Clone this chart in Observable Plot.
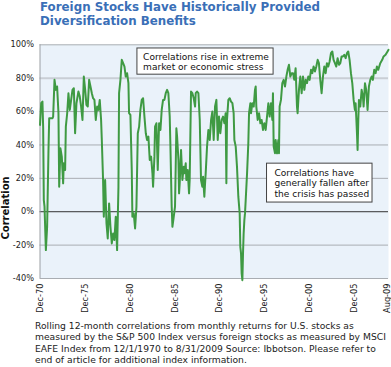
<!DOCTYPE html>
<html><head><meta charset="utf-8">
<script src="https://cdn.jsdelivr.net/npm/d3@7"></script>
<script src="https://cdn.jsdelivr.net/npm/@observablehq/plot@0.6"></script>
<style>
body{margin:0;width:391px;height:367px;overflow:hidden;background:#fff;}
#title{height:32px;padding-left:40px;font:bold 12.5px "DejaVu Sans";line-height:14px;color:#3a6fb7;white-space:nowrap;}
#title span{display:inline-block;transform-origin:0 0;}
#chart svg{display:block}
#caption{padding-left:35px;font:9.2px "DejaVu Sans";line-height:11.3px;color:#222;white-space:nowrap;}
</style></head>
<body>
<div id="title"><span id="t1"></span><br><span id="t2"></span></div>
<div id="chart"></div>
<div id="caption"></div>
<script>
const titleLines = ["Foreign Stocks Have Historically Provided", "Diversification Benefits"];
const captionLines = [
  "Rolling 12-month correlations from monthly returns for U.S. stocks as",
  "measured by the S&P 500 Index versus foreign stocks as measured by MSCI",
  "EAFE Index from 12/1/1970 to 8/31/2009 Source: Ibbotson. Please refer to",
  "end of article for additional index information."
];
const yAxisLabel = "Correlation";

// x tick positions (decimal years) and labels
const tickYears = [1970.917, 1975.917, 1980.917, 1985.917, 1990.917, 1995.917, 2000.917, 2005.917, 2009.583];
const tickLabels = ["Dec-70", "Dec-75", "Dec-80", "Dec-85", "Dec-90", "Dec-95", "Dec-00", "Dec-05", "Aug-09"];
const yTicks = [-40, -20, 0, 20, 40, 60, 80, 100];

// rolling correlation, percent
const years70s = [1970.92,1971.05,1971.19,1971.27,1971.34,1971.42,1971.57,1971.71,1971.86,1971.94,
1972.31,1972.38,1972.53,1972.68,1972.82,1972.97,1973.05,1973.19,1973.34,1973.49,
1973.56,1973.71,1973.79,1973.94,1974.08,1974.23,1974.38,1974.53,1974.68,1974.82,
1974.97,1975.19,1975.34,1975.49,1975.64,1975.79,1975.94,1976.08,1976.23,1976.38,
1976.53,1976.68,1976.82,1976.97,1977.12,1977.27,1977.42,1977.56,1977.71,1977.79,
1977.93,1978.01,1978.16,1978.31,1978.45,1978.60,1978.75,1978.90,1979.05,1979.19,
1979.34,1979.49,1979.64,1979.71,1979.86,1980.01,1980.16,1980.31];
const corr70s = [52,65,66,50,7,3,-23,-9,37,56,
56,57,79,73,75,59,15,38,33,17,
29,25,51,59,71,61,67,73,74,47,
65,72,69,63,55,81,73,64,63,79,
75,71,68,67,55,63,61,67,55,43,
19,-3,19,-7,-16,5,-9,-19,-13,-17,
-3,-23,15,71,79,91,89,87];

const years80s = [1980.45,1980.60,1980.75,1980.82,1980.97,1981.12,1981.19,1981.34,1981.49,1981.64,
1981.79,1981.94,1982.08,1982.23,1982.38,1982.53,1982.68,1982.82,1982.97,1983.12,
1983.27,1983.42,1983.49,1983.64,1983.71,1983.86,1984.01,1984.16,1984.31,1984.45,
1984.60,1984.75,1984.90,1985.05,1985.19,1985.34,1985.42,1985.56,1985.64,1985.79,
1985.93,1986.08,1986.16,1986.31,1986.38,1986.45,1986.60,1986.75,1986.90,1986.97,
1987.12,1987.19,1987.34,1987.49,1987.56,1987.71,1987.86,1988.01,1988.16,1988.23,
1988.38,1988.53,1988.68,1988.75,1988.82,1988.97,1989.05,1989.19,1989.27,1989.34,
1989.49,1989.64,1989.79,1989.94];
const corr80s = [81,83,77,59,58,25,-3,-1,-10,3,
47,51,61,67,68,57,47,43,45,31,
33,23,15,33,51,53,25,53,49,61,
67,67,71,73,71,57,39,3,-9,-3,
3,50,45,31,11,17,37,19,27,23,
29,19,25,11,19,72,71,68,63,71,
72,71,55,37,19,15,21,9,17,23,
39,49,43,55];

const years90s = [1990.08,1990.23,1990.38,1990.53,1990.68,1990.82,1990.97,1991.12,1991.27,1991.42,
1991.56,1991.64,1991.71,1991.86,1992.01,1992.16,1992.31,1992.45,1992.53,1992.68,
1992.82,1992.97,1993.12,1993.19,1993.27,1993.34,1993.42,1993.49,1993.56,1993.64,
1993.71,1993.79,1993.94,1994.08,1994.16,1994.31,1994.38,1994.53,1994.68,1994.82,
1994.90,1994.97,1995.12,1995.27,1995.42,1995.56,1995.71,1995.86,1996.01,1996.16,
1996.31,1996.45,1996.60,1996.75,1996.82,1996.90,1997.05,1997.12,1997.27,1997.42,
1997.49,1997.56,1997.71,1997.86,1998.01,1998.16,1998.31,1998.45,1998.60,1998.75,
1998.90,1999.05,1999.19,1999.34,1999.49,1999.56,1999.71,1999.86];
const corr90s = [60,43,63,67,43,57,47,55,57,53,
59,17,55,67,68,66,65,59,43,39,
27,9,-1,-21,-25,-37,-41,-25,-13,-5,
-1,7,23,41,59,65,59,65,63,73,
75,63,55,59,53,55,49,53,49,57,
65,57,65,55,71,39,35,43,35,43,
35,63,67,77,79,75,81,85,88,81,
83,83,79,86,63,59,73,81];

const years00s = [2000.01,2000.16,2000.31,2000.45,2000.60,2000.75,2000.90,2001.05,2001.19,2001.34,
2001.49,2001.64,2001.79,2001.93,2002.08,2002.23,2002.38,2002.53,2002.68,2002.82,
2002.97,2003.12,2003.27,2003.42,2003.56,2003.71,2003.86,2004.01,2004.16,2004.31,
2004.45,2004.60,2004.75,2004.90,2005.05,2005.19,2005.34,2005.49,2005.64,2005.79,
2005.93,2006.01,2006.08,2006.16,2006.23,2006.31,2006.38,2006.53,2006.68,2006.82,
2006.90,2007.05,2007.19,2007.34,2007.49,2007.64,2007.79,2007.93,2008.08,2008.23,
2008.38,2008.53,2008.75,2008.97,2009.12,2009.34,2009.56,2009.67];
const corr00s = [71,81,73,79,77,81,79,85,83,87,
84,87,91,89,79,71,81,87,83,89,
87,90,95,96,91,89,87,92,88,89,
93,93,94,92,95,96,91,83,77,67,
61,65,57,47,37,55,67,63,73,69,
63,77,73,61,75,79,81,79,85,83,
87,85,89,91,93,94,96,97];

// annotations
const noteTexts = ["Correlations rise in extreme\nmarket or economic stress",
                   "Correlations have\ngenerally fallen after\nthe crisis has passed"];
const noteX = [1982.38, 1996.99];
const noteY = [95.5, 25.8];
const boxX1 = [1981.75, 1996.16];
const boxX2 = [1996.89, 2007.89];
const boxY1 = [97.8, 28.8];
const boxY2 = [82.1, 5.5];

const years = [...years70s, ...years80s, ...years90s, ...years00s];
const corr = [...corr70s, ...corr80s, ...corr90s, ...corr00s];
const series = years.map((y, i) => ({year: y, corr: corr[i]}));
const notes = noteTexts.map((t, i) => ({text: t, x: noteX[i], y: noteY[i], x1: boxX1[i], x2: boxX2[i], y1: boxY1[i], y2: boxY2[i]}));

const xDomain = [1970.917, 2009.667];

const chart = Plot.plot({
  width: 391,
  height: 288,
  marginLeft: 39.5,
  marginRight: 3,
  marginTop: 12.3,
  marginBottom: 42,
  style: {fontFamily: "DejaVu Sans", fontSize: "8.2px", color: "#222", background: "#fff", overflow: "visible"},
  x: {domain: xDomain},
  y: {domain: [-40, 100]},
  marks: [
    Plot.frame({fill: "#eaf2fa", stroke: null}),
    Plot.gridY(yTicks.filter(d => d !== 80 && d !== 0), {stroke: "#a9adb2", strokeOpacity: 1, strokeWidth: 1}),
    Plot.gridY([80], {stroke: "#c9ced5", strokeOpacity: 1, strokeWidth: 2}),
    Plot.ruleY([0], {stroke: "#333"}),
    Plot.ruleX([xDomain[0]], {stroke: "#9a9ea3"}),
    Plot.axisY(yTicks, {tickFormat: d => d + "%", tickSize: 0, tickPadding: 6, fontSize: 8.2, label: null}),
    Plot.axisX(tickYears, {tickFormat: (d, i) => tickLabels[i], tickRotate: -90, tickSize: 0, tickPadding: 5, fontSize: 8.2, label: null}),
    Plot.line(series, {x: "year", y: "corr", stroke: "#3f9a43", strokeWidth: 2, strokeLinejoin: "round"}),
    Plot.rect(notes, {x1: "x1", x2: "x2", y1: "y1", y2: "y2", fill: "#fff", stroke: "#444", strokeWidth: 1}),
    Plot.text(notes, {x: "x", y: "y", text: "text", textAnchor: "start", lineAnchor: "top", lineHeight: 1.15, fontSize: 9.05, fill: "#111"}),
    Plot.text([yAxisLabel], {frameAnchor: "left", rotate: -90, dx: -34.5, dy: 46.3, fontWeight: "bold", fontSize: 10, textAnchor: "middle", lineAnchor: "middle", fill: "#111"})
  ]
});
document.getElementById("chart").appendChild(chart);

const t1 = document.getElementById("t1"), t2 = document.getElementById("t2");
t1.textContent = titleLines[0];
t2.textContent = titleLines[1];
const k = 280 / t1.getBoundingClientRect().width;
t1.style.transform = `scaleX(${k})`;
t2.style.transform = `scaleX(${k})`;

document.getElementById("caption").innerHTML = captionLines.map(s => s.replace(/&/g, "&amp;")).join("<br>");
</script>
</body></html>
